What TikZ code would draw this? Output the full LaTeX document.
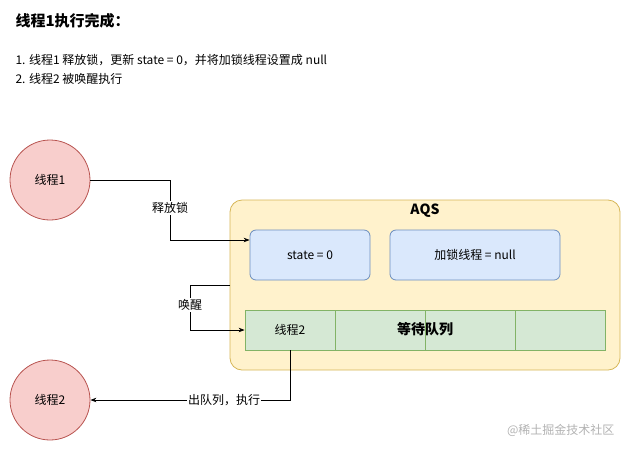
\documentclass[tikz,border=0pt]{standalone}
\usepackage{fontspec}
\setmainfont{Noto Sans CJK SC}
\usetikzlibrary{arrows.meta}
\definecolor{rf}{HTML}{F8CECC}\definecolor{rs}{HTML}{B85450}
\definecolor{bf}{HTML}{DAE8FC}\definecolor{bs}{HTML}{6C8EBF}
\definecolor{gf}{HTML}{D5E8D4}\definecolor{gs}{HTML}{82B366}
\definecolor{yf}{HTML}{FFF2CC}\definecolor{ys}{HTML}{D6B656}
\begin{document}
\begin{tikzpicture}[x=1pt,y=-1pt,
  every node/.style={font=\fontsize{12}{14}\selectfont},
  circ/.style={circle,draw=rs,fill=rf,minimum size=80pt,inner sep=0pt,line width=0.8pt},
  bluebox/.style={draw=bs,fill=bf,rounded corners=6pt,line width=0.8pt,minimum height=50pt},
  cell/.style={draw=gs,fill=gf,minimum height=40pt,line width=0.8pt},
  arr/.style={-{Stealth[length=6pt]},line width=0.7pt},
  lbl/.style={fill=white,inner sep=1pt}]
\useasboundingbox (0,0) rectangle (631,451);
\node[anchor=west,font=\fontsize{15}{18}\selectfont\bfseries] (title) at (12,21) {线程1执行完成：};
\node[anchor=west] (l1) at (12,60) {1. 线程1 释放锁，更新 state = 0，并将加锁线程设置成 null};
\node[anchor=west] (l2) at (12,79) {2. 线程2 被唤醒执行};
\node[circ] (t1) at (50,180) {线程1};
\node[circ] (t2) at (50,400) {线程2};
\node[draw=ys,fill=yf,rounded corners=12pt,minimum width=390pt,minimum height=170pt,line width=0.8pt] (aqs) at (425,285) {};
\node[font=\fontsize{14}{16}\selectfont\bfseries] (aqst) at (425,211) {AQS};
\node[bluebox,minimum width=120pt] (st) at (310,255) {state = 0};
\node[bluebox,minimum width=170pt] (lk) at (475,255) {加锁线程 = null};
\node[cell,minimum width=90pt] (c1) at (290,330) {线程2};
\node[cell,minimum width=90pt] (c2) at (380,330) {};
\node[cell,minimum width=90pt] (c3) at (470,330) {};
\node[cell,minimum width=90pt] (c4) at (560,330) {};
\node[font=\fontsize{14}{16}\selectfont\bfseries] (q) at (425,329) {等待队列};
\coordinate (w) at (230,285);
\draw[arr] (t1.east) -- (170,180) -- (170,240) -- (st.west |- 0,240);
\node[lbl] (rl) at (170,208) {释放锁};
\draw[arr] (w) -- (190,285) -- (190,330) -- (c1.west);
\node[lbl] (hx) at (190,305) {唤醒};
\draw[arr] (c1.south) -- (290,400) -- (t2.east);
\node[lbl] (cd) at (224,400) {出队列，执行};
\node[text=gray!60,anchor=east] (wm) at (618,430) {@稀土掘金技术社区};
\end{tikzpicture}
\end{document}
